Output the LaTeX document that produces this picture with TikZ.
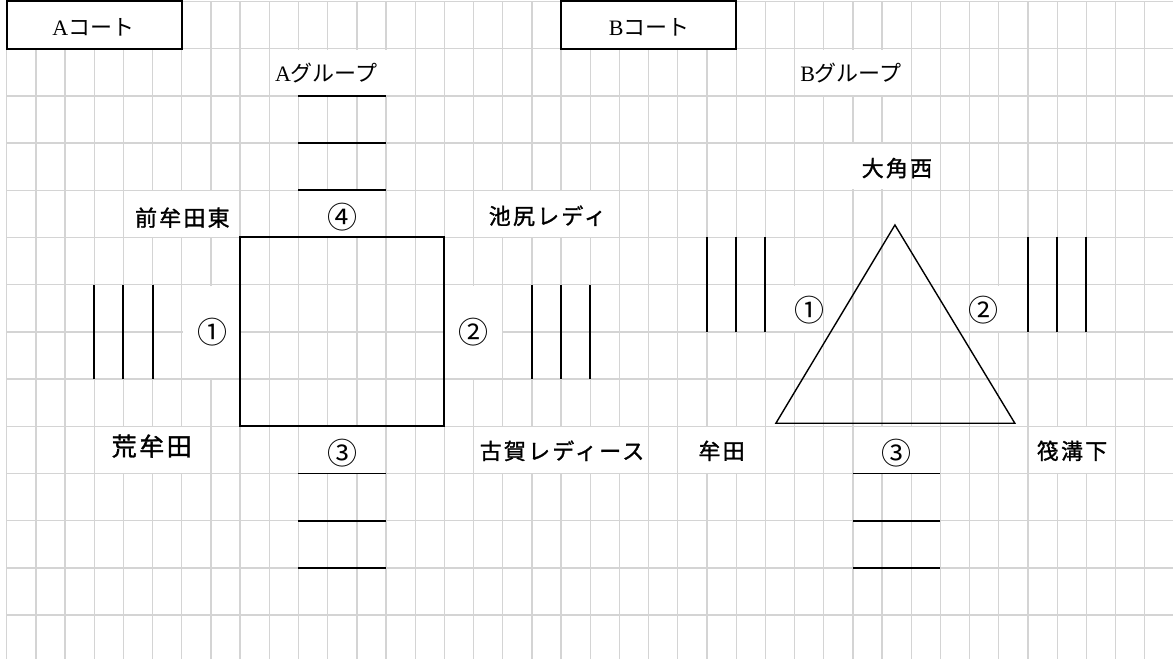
\documentclass[tikz,border=0pt]{standalone}
\usepackage{fontspec}
\setmainfont{Liberation Serif}
\newfontfamily\jmin{Noto Sans CJK JP}
\newfontfamily\jgoth{Noto Sans CJK JP}[LetterSpace=10,FakeBold=1.3]
\definecolor{gridgray}{RGB}{212,212,212}

\begin{document}
\begin{tikzpicture}[x=29.18pt,y=47.2pt,
    every node/.style={inner sep=0pt},
    gridline/.style={gridgray,line width=1.3pt},
    blank/.style={fill=white},
    court/.style={line width=1.9pt},
    mincho/.style={font=\fontsize{22}{24}\selectfont\jmin},
    team/.style={font=\fontsize{22}{24}\selectfont\jgoth},
    bigteam/.style={font=\fontsize{25}{27}\selectfont\jgoth},
    num/.style={font=\fontsize{30}{32}\selectfont\jmin}]

    \useasboundingbox (-0.2296,0.0318) rectangle (39.97,-13.93);
    \fill[white] (-0.2296,0.0318) rectangle (39.97,-13.93);

    % sheet grid
    \foreach \c in {0,...,39} \draw[gridline] (\c,0) -- (\c,-13.93);
    \foreach \r in {0,...,13} \draw[gridline] (0,-\r) -- (39.97,-\r);

    % merged cells
    \foreach \ca/\ra/\cb/\rb in {0/0/6/1, 19/0/25/1, 9/1/14/2, 27/1/31/2,
        28/3/31/4, 4/4/8/5, 10/4/13/5, 16/4/21/5, 6/6/8/8, 15/6/17/8,
        26/6/28/7, 33/6/35/7, 3/9/7/10, 10/9/13/10, 16/9/22/10,
        23/9/26/10, 29/9/32/10, 35/9/38/10}
        \fill[blank] (\ca+0.03,-\ra-0.02) rectangle (\cb-0.03,-\rb+0.02);

    % courts
    \draw[line width=2pt] (0,0) rectangle (6,-1);
    \draw[line width=2pt] (19,0) rectangle (25,-1);
    \draw[line width=2pt] (8,-5) rectangle (15,-9);
    \foreach \r in {2,3,4,10,11,12} \draw[court] (10,-\r) -- (13,-\r);
    \foreach \c in {3,4,5,18,19,20} \draw[court] (\c,-6) -- (\c,-8);
    \foreach \c in {24,25,26,35,36,37} \draw[court] (\c,-5) -- (\c,-7);
    \foreach \r in {10,11,12} \draw[court] (29,-\r) -- (32,-\r);
    \draw[line width=1.4pt] (30.44,-4.735) -- (34.55,-8.936) -- (26.36,-8.936) -- cycle;

    % labels
    \node[mincho] (acourt) at (2.97,-0.55) {{\rmfamily A}コート};
    \node[mincho] (bcourt) at (22.02,-0.55) {{\rmfamily B}コート};
    \node[mincho,anchor=west] (agroup) at (9.19,-1.51) {{\rmfamily A}グループ};
    \node[mincho,anchor=west] (bgroup) at (27.19,-1.51) {{\rmfamily B}グループ};
    \node[team] (daikaku) at (30.51,-3.53) {大角西};
    \node[team] (maemuta) at (6.02,-4.58) {前牟田東};
    \node[num] (a4) at (11.52,-4.57) {④};
    \node[team] (ikejiri) at (18.53,-4.54) {池尻レディ};
    \node[num] (a1) at (7.04,-7.0) {①};
    \node[num] (a2) at (16.01,-7.0) {②};
    \node[num] (b1) at (27.5,-6.54) {①};
    \node[num] (b2) at (33.49,-6.54) {②};
    \node[bigteam] (aremuta) at (4.97,-9.42) {荒牟田};
    \node[num] (a3) at (11.52,-9.57) {③};
    \node[team] (koga) at (19.03,-9.52) {古賀レディース};
    \node[team] (muta) at (24.5,-9.52) {牟田};
    \node[num] (b3) at (30.5,-9.57) {③};
    \node[team] (ikada) at (36.51,-9.52) {筏溝下};
\end{tikzpicture}
\end{document}
